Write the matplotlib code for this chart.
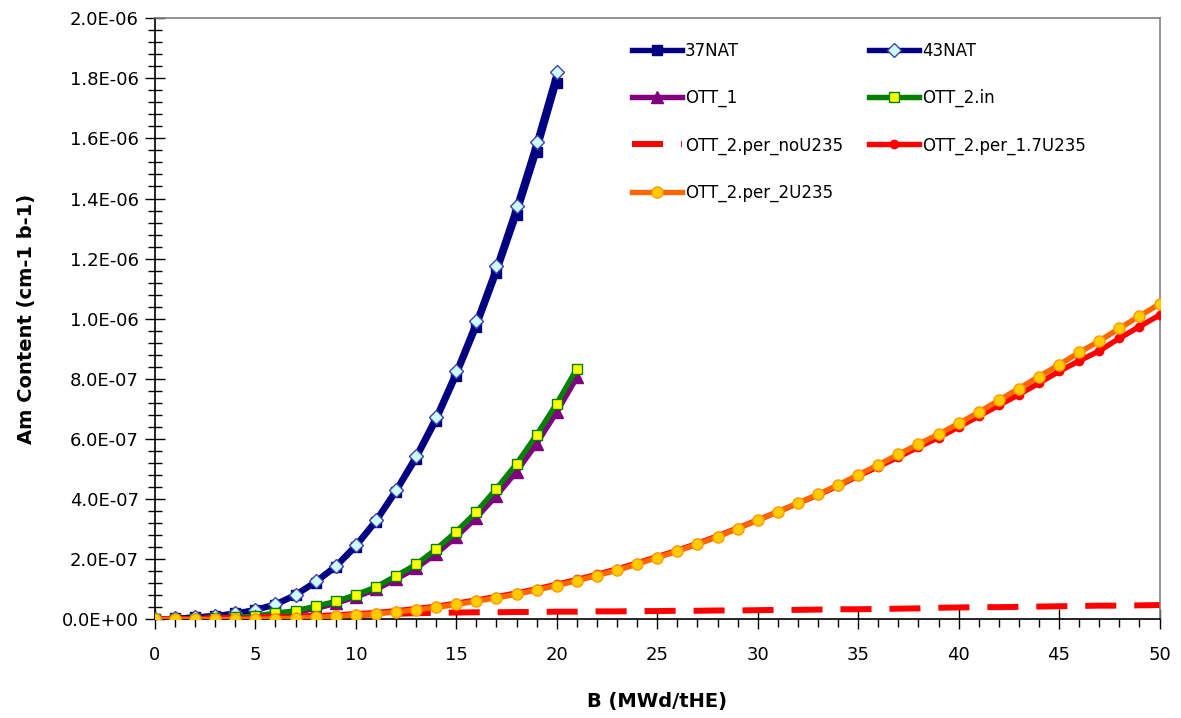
import matplotlib
matplotlib.use("Agg")
import matplotlib.pyplot as plt
from matplotlib.ticker import MultipleLocator, FuncFormatter

# ---- data (values in units of 1E-6) ----
x_nat = list(range(0, 21))
nat37 = [0, 0.004, 0.008, 0.012, 0.020, 0.031, 0.048, 0.080, 0.123, 0.174, 0.242,
         0.324, 0.424, 0.534, 0.661, 0.810, 0.972, 1.151, 1.344, 1.554, 1.785]
nat43 = [0, 0.004, 0.008, 0.013, 0.021, 0.033, 0.052, 0.083, 0.127, 0.179, 0.248,
         0.331, 0.432, 0.545, 0.675, 0.826, 0.992, 1.174, 1.374, 1.589, 1.820]

x_ott = list(range(0, 22))
ott1 = [0, 0.001, 0.002, 0.003, 0.006, 0.010, 0.016, 0.025, 0.036, 0.054, 0.075,
        0.100, 0.134, 0.171, 0.219, 0.275, 0.339, 0.412, 0.492, 0.585, 0.690, 0.805]
ott2_in = [0, 0.001, 0.002, 0.004, 0.007, 0.012, 0.021, 0.029, 0.044, 0.060, 0.082,
           0.108, 0.145, 0.183, 0.234, 0.292, 0.358, 0.435, 0.518, 0.614, 0.718, 0.834]

x_per = list(range(0, 51))
per_no = [0, 0.002, 0.003, 0.005, 0.006, 0.008, 0.009, 0.010, 0.012, 0.013, 0.015,
          0.017, 0.019, 0.021, 0.022, 0.023, 0.024, 0.024, 0.025, 0.025, 0.026,
          0.026, 0.027, 0.027, 0.028, 0.028, 0.029, 0.029, 0.030, 0.030, 0.031,
          0.032, 0.032, 0.033, 0.034, 0.034, 0.035, 0.036, 0.037, 0.039, 0.040,
          0.041, 0.041, 0.042, 0.043, 0.044, 0.045, 0.046, 0.046, 0.047, 0.048]
per_17 = [0, 0.001, 0.002, 0.003, 0.004, 0.005, 0.006, 0.008, 0.011, 0.015, 0.019,
          0.023, 0.029, 0.036, 0.044, 0.054, 0.065, 0.076, 0.088, 0.102, 0.117,
          0.133, 0.150, 0.168, 0.188, 0.209, 0.230, 0.253, 0.278, 0.304, 0.331,
          0.358, 0.386, 0.414, 0.444, 0.477, 0.508, 0.540, 0.573, 0.605, 0.640,
          0.676, 0.712, 0.748, 0.786, 0.825, 0.860, 0.893, 0.935, 0.974, 1.012]
per_2 = [0, 0, 0, 0, 0, 0.001, 0.002, 0.004, 0.007, 0.011, 0.015,
         0.019, 0.025, 0.032, 0.040, 0.050, 0.061, 0.072, 0.084, 0.098, 0.113,
         0.129, 0.146, 0.164, 0.184, 0.206, 0.227, 0.250, 0.275, 0.302, 0.330,
         0.358, 0.387, 0.416, 0.447, 0.481, 0.514, 0.549, 0.583, 0.616, 0.652,
         0.689, 0.729, 0.768, 0.808, 0.847, 0.888, 0.926, 0.968, 1.009, 1.049]

labels = ["37NAT", "43NAT", "OTT_1", "OTT_2.in", "OTT_2.per_noU235",
          "OTT_2.per_1.7U235", "OTT_2.per_2U235"]
x_ticks = [0, 5, 10, 15, 20, 25, 30, 35, 40, 45, 50]

S = 1e-6
def sc(v):
    return [a * S for a in v]

plt.rcParams['font.family'] = ['DejaVu Sans']
fig = plt.figure(figsize=(11.81, 7.18), dpi=100)
ax = fig.add_axes([0.1312, 0.1372, 0.8506, 0.8376])

lw = 3.9
h = {}
h[0], = ax.plot(x_nat, sc(nat37), color='#000080', lw=lw, marker='s', ms=7,
                mfc='#000080', mec='#000080', zorder=3)
h[1], = ax.plot(x_nat, sc(nat43), color='#000080', lw=lw, marker='D', ms=7,
                mfc='#CCFFFF', mec='#4040B0', mew=1, zorder=3)
h[2], = ax.plot(x_ott, sc(ott1), color='#800080', lw=lw, marker='^', ms=8,
                mfc='#800080', mec='#800080', zorder=3)
h[3], = ax.plot(x_ott, sc(ott2_in), color='#008000', lw=lw, marker='s', ms=7.5,
                mfc='#FFFF00', mec='#008000', mew=1, zorder=3)
h[4], = ax.plot(x_per, sc(per_no), color='#FF0000', lw=lw + 0.4, ls=(0, (5.2, 3.0)),
                zorder=3)
h[5], = ax.plot(x_per, sc(per_17), color='#FF0000', lw=lw, marker='o', ms=6,
                mfc='#FF0000', mec='#FF0000', zorder=3)
h[6], = ax.plot(x_per, sc(per_2), color='#FF6600', lw=lw, marker='o', ms=8,
                mfc='#FFCC00', mec='#FF9900', mew=1, zorder=3)

ax.set_xlim(0, 50)
ax.set_ylim(0, 2.0e-6)
ax.set_xticks(x_ticks)
ax.xaxis.set_minor_locator(MultipleLocator(1))
ax.yaxis.set_major_locator(MultipleLocator(2e-7))
ax.yaxis.set_minor_locator(MultipleLocator(4e-8))
ax.yaxis.set_major_formatter(FuncFormatter(lambda v, p: f"{v:.1E}"))

ax.tick_params(axis='x', which='major', direction='inout', length=14, width=1,
               labelsize=13, pad=12)
ax.tick_params(axis='x', which='minor', direction='out', length=6, width=1)
ax.tick_params(axis='y', which='major', direction='inout', length=15, width=1,
               labelsize=13, pad=4)
ax.tick_params(axis='y', which='minor', direction='inout', length=10, width=1)

for s in ['left', 'bottom']:
    ax.spines[s].set_color('black')
    ax.spines[s].set_linewidth(1.2)
for s in ['top', 'right']:
    ax.spines[s].set_color('#808080')
    ax.spines[s].set_linewidth(1.2)

ax.set_xlabel("B (MWd/tHE)", fontsize=14, fontweight='bold', labelpad=20)
ax.set_ylabel("Am Content (cm-1 b-1)", fontsize=14, fontweight='bold', labelpad=19)

order = [0, 2, 4, 6, 1, 3, 5]
leg = ax.legend([h[i] for i in order], [labels[i] for i in order], ncol=2,
                loc='upper left', bbox_to_anchor=(0.535, 0.942),
                bbox_transform=fig.transFigure, frameon=False, fontsize=12,
                handlelength=3.0, handletextpad=0.2, labelspacing=1.75,
                columnspacing=1.55, borderpad=0, borderaxespad=0, markerscale=1.0)

fig.savefig("out.png", dpi=100)
